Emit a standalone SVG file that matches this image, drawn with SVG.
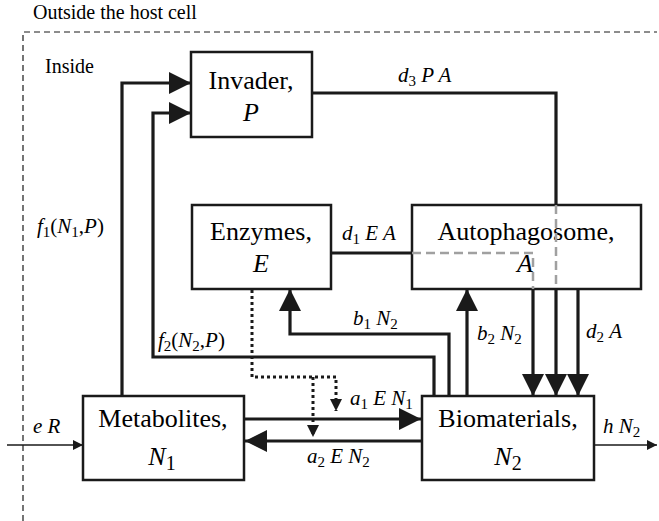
<svg xmlns="http://www.w3.org/2000/svg" width="659" height="521" viewBox="0 0 659 521">
<defs>
<marker id="big" viewBox="0 0 22 22" markerWidth="22" markerHeight="22" refX="22" refY="11" orient="auto" markerUnits="userSpaceOnUse"><path d="M0,0L22,11L0,22z" fill="#1a1a1a"/></marker>
<marker id="sm" viewBox="0 0 12 12" markerWidth="12" markerHeight="12" refX="12" refY="6" orient="auto" markerUnits="userSpaceOnUse"><path d="M0,0L12,6L0,12z" fill="#1a1a1a"/></marker>
<marker id="tiny" viewBox="0 0 10 10" markerWidth="10" markerHeight="10" refX="10" refY="5" orient="auto" markerUnits="userSpaceOnUse"><path d="M0,0L10,5L0,10z" fill="#1a1a1a"/></marker>
</defs>
<path d="M23,521V32H657" fill="none" stroke="#1a1a1a" stroke-width="1.2" stroke-dasharray="6,4"/>
<text x="33" y="19" font-size="20" font-family="Liberation Serif">Outside the host cell</text>
<text x="45" y="73" font-size="20" font-family="Liberation Serif">Inside</text>

<g id="invader"><rect x="191" y="52" width="121" height="85" fill="#fff" stroke="#1a1a1a" stroke-width="2.5"/><text font-family="Liberation Serif" font-size="26" text-anchor="middle" x="251" y="89">Invader,</text><text font-family="Liberation Serif" font-size="26" text-anchor="middle" font-style="italic" x="251" y="121">P</text></g>
<g id="enzymes"><rect x="192" y="205" width="139" height="84" fill="#fff" stroke="#1a1a1a" stroke-width="2.5"/><text font-family="Liberation Serif" font-size="26" text-anchor="middle" x="261" y="240">Enzymes,</text><text font-family="Liberation Serif" font-size="26" text-anchor="middle" font-style="italic" x="261" y="272">E</text></g>
<g id="autophagosome"><rect x="412" y="205" width="229" height="84" fill="#fff" stroke="#1a1a1a" stroke-width="2.5"/><text font-family="Liberation Serif" font-size="26" text-anchor="middle" x="526" y="240">Autophagosome,</text><text font-family="Liberation Serif" font-size="26" text-anchor="middle" font-style="italic" x="525" y="272">A</text></g>
<g id="metabolites"><rect x="83" y="396" width="161" height="84" fill="#fff" stroke="#1a1a1a" stroke-width="2.5"/><text font-family="Liberation Serif" font-size="26" text-anchor="middle" x="163" y="427">Metabolites,</text><text font-family="Liberation Serif" font-size="26" text-anchor="middle" x="162" y="465"><tspan font-style="italic">N</tspan><tspan font-size="20" dy="5">1</tspan></text></g>
<g id="biomaterials"><rect x="422" y="396" width="172" height="84" fill="#fff" stroke="#1a1a1a" stroke-width="2.5"/><text font-family="Liberation Serif" font-size="26" text-anchor="middle" x="508" y="427">Biomaterials,</text><text font-family="Liberation Serif" font-size="26" text-anchor="middle" x="508" y="465"><tspan font-style="italic">N</tspan><tspan font-size="20" dy="5">2</tspan></text></g>

<g id="connectors" fill="none" stroke="#1a1a1a" stroke-width="3.2">
<path d="M122,396V83H191" marker-end="url(#big)"/>
<path d="M434,396V357H153V113H191" marker-end="url(#big)"/>
<path d="M449,396V334H290V289" marker-end="url(#big)"/>
<path d="M467,396V289" marker-end="url(#big)"/>
<path d="M312,93H556V205"/>
<path d="M331,253H412"/>
<path d="M412,253H533V289" stroke="#a0a0a0" stroke-width="2.5" stroke-dasharray="9,5"/>
<path d="M556,205V289" stroke="#a0a0a0" stroke-width="2.5" stroke-dasharray="9,5"/>
<path d="M533,289V396" marker-end="url(#big)"/>
<path d="M556,289V396" marker-end="url(#big)"/>
<path d="M578,289V396" marker-end="url(#big)"/>
<path d="M244,419H421" marker-end="url(#big)"/>
<path d="M422,441H245" marker-end="url(#big)"/>
<path d="M252,290V377H336V411" stroke-width="3" stroke-dasharray="3,3" marker-end="url(#sm)"/>
<path d="M313,377V437" stroke-width="3" stroke-dasharray="3,3" marker-end="url(#sm)"/>
<path d="M7,445H83" stroke-width="1.3" marker-end="url(#tiny)"/>
<path d="M594,445H657" stroke-width="1.3" marker-end="url(#tiny)"/>
</g>

<g id="labels">
<text font-family="Liberation Serif" font-size="21" x="398" y="82"><tspan font-style="italic">d</tspan><tspan font-size="15" dy="4">3</tspan><tspan dy="-4"> </tspan><tspan font-style="italic">P A</tspan></text>
<text font-family="Liberation Serif" font-size="21" x="342" y="240"><tspan font-style="italic">d</tspan><tspan font-size="15" dy="4">1</tspan><tspan dy="-4"> </tspan><tspan font-style="italic">E A</tspan></text>
<text font-family="Liberation Serif" font-size="21" x="37" y="233"><tspan font-style="italic">f</tspan><tspan font-size="15" dy="4">1</tspan><tspan dy="-4">(</tspan><tspan font-style="italic">N</tspan><tspan font-size="15" dy="4">1</tspan><tspan dy="-4">,</tspan><tspan font-style="italic">P</tspan>)</text>
<text font-family="Liberation Serif" font-size="21" x="158" y="347"><tspan font-style="italic">f</tspan><tspan font-size="15" dy="4">2</tspan><tspan dy="-4">(</tspan><tspan font-style="italic">N</tspan><tspan font-size="15" dy="4">2</tspan><tspan dy="-4">,</tspan><tspan font-style="italic">P</tspan>)</text>
<text font-family="Liberation Serif" font-size="21" x="353" y="325"><tspan font-style="italic">b</tspan><tspan font-size="15" dy="4">1</tspan><tspan dy="-4"> </tspan><tspan font-style="italic">N</tspan><tspan font-size="15" dy="4">2</tspan></text>
<text font-family="Liberation Serif" font-size="21" x="477" y="340"><tspan font-style="italic">b</tspan><tspan font-size="15" dy="4">2</tspan><tspan dy="-4"> </tspan><tspan font-style="italic">N</tspan><tspan font-size="15" dy="4">2</tspan></text>
<text font-family="Liberation Serif" font-size="21" x="586" y="338"><tspan font-style="italic">d</tspan><tspan font-size="15" dy="4">2</tspan><tspan dy="-4"> </tspan><tspan font-style="italic">A</tspan></text>
<text font-family="Liberation Serif" font-size="21" x="350" y="405"><tspan font-style="italic">a</tspan><tspan font-size="15" dy="4">1</tspan><tspan dy="-4"> </tspan><tspan font-style="italic">E N</tspan><tspan font-size="15" dy="4">1</tspan></text>
<text font-family="Liberation Serif" font-size="21" x="307" y="463"><tspan font-style="italic">a</tspan><tspan font-size="15" dy="4">2</tspan><tspan dy="-4"> </tspan><tspan font-style="italic">E N</tspan><tspan font-size="15" dy="4">2</tspan></text>
<text font-family="Liberation Serif" font-size="21" x="33" y="433" font-style="italic">e R</text>
<text font-family="Liberation Serif" font-size="21" x="603" y="433"><tspan font-style="italic">h N</tspan><tspan font-size="15" dy="4">2</tspan></text>
</g>
</svg>
